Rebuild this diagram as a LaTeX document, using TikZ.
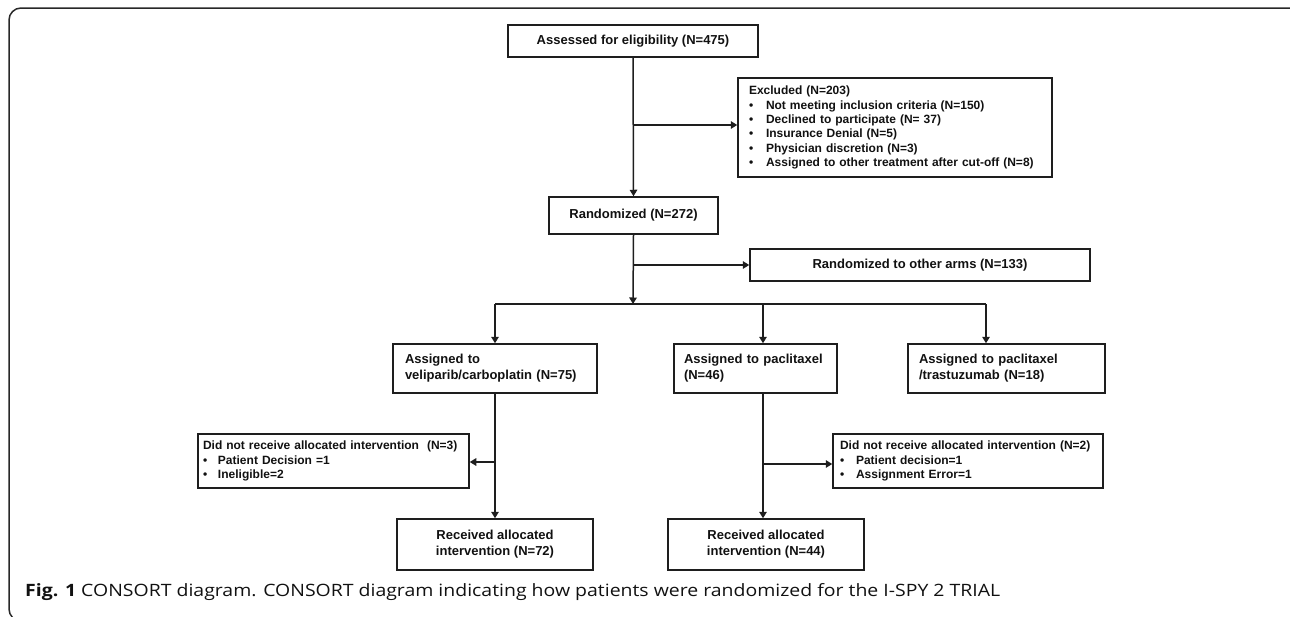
\documentclass[tikz,border=0pt]{standalone}
\usepackage{graphicx}
\usepackage{fontspec}
\setmainfont{Liberation Sans}
\newfontfamily\capfont{Open Sans}
\usetikzlibrary{arrows.meta}
\definecolor{linec}{RGB}{30,30,30}
\definecolor{textc}{RGB}{17,17,17}
\definecolor{framec}{RGB}{40,40,40}
\tikzset{
  box/.style={draw=linec, line width=1.5pt, inner sep=0pt, text=textc,
    font=\fontsize{13}{16}\selectfont\bfseries},
  smallbox/.style={draw=linec, line width=1.5pt, inner ysep=0pt, text=textc,
    font=\fontsize{12}{14.3}\selectfont\bfseries, align=left},
  arr/.style={draw=linec, line width=1.5pt, -{Triangle[length=6.5pt,width=7.5pt]}},
  ln/.style={draw=linec, line width=1.5pt},
}
\begin{document}
\begin{tikzpicture}[x=1pt,y=-1pt]
\useasboundingbox (0,0) rectangle (1290,616);
% frame
\draw[framec, line width=1.5pt, rounded corners=12pt] (1297,8) -- (9,8) -- (9,621) -- (40,621);

\node[box, minimum width=250pt, minimum height=32pt] (n1) at (633,41) {Assessed for eligibility (N=475)};

\node[smallbox, inner xsep=11pt, text width=292pt, minimum height=99pt] (excl) at (895,127.5)
 {Excluded (N=203)\\
  \makebox[17pt][l]{\textbullet}Not meeting inclusion criteria (N=150)\\
  \makebox[17pt][l]{\textbullet}Declined to participate (N= 37)\\
  \makebox[17pt][l]{\textbullet}Insurance Denial (N=5)\\
  \makebox[17pt][l]{\textbullet}Physician discretion (N=3)\\
  \makebox[17pt][l]{\textbullet}Assigned to other treatment after cut-off (N=8)};

\node[box, minimum width=169pt, minimum height=37pt] (rand) at (633.5,215.5) {Randomized (N=272)};

\node[box, minimum width=340pt, minimum height=32pt] (other) at (920,265) {Randomized to other arms (N=133)};

\node[box, align=left, inner xsep=12pt, text width=180pt, minimum height=49pt] (veli) at (495,368.5)
 {Assigned to\\veliparib/carboplatin (N=75)};
\node[box, align=left, inner xsep=10pt, text width=143pt, minimum height=49pt] (pacl) at (755.5,368.5)
 {Assigned to paclitaxel\\(N=46)};
\node[box, align=left, inner xsep=11pt, text width=175pt, minimum height=49pt] (tras) at (1006.5,368.5)
 {Assigned to paclitaxel\\/trastuzumab (N=18)};

\node[smallbox, inner xsep=5pt, text width=261pt, minimum height=54pt] (dnr1) at (333.5,461)
 {Did not receive allocated intervention\ \ (N=3)\\
  \makebox[15pt][l]{\textbullet}Patient Decision =1\\
  \makebox[15pt][l]{\textbullet}Ineligible=2};
\node[smallbox, inner xsep=7pt, text width=256pt, minimum height=54pt] (dnr2) at (968,461)
 {Did not receive allocated intervention (N=2)\\
  \makebox[16pt][l]{\textbullet}Patient decision=1\\
  \makebox[16pt][l]{\textbullet}Assignment Error=1};

\node[box, align=center, minimum width=196pt, minimum height=51pt] (rec1) at (495,544.5)
 {Received allocated\\intervention (N=72)};
\node[box, align=center, minimum width=196pt, minimum height=51pt] (rec2) at (766,544.5)
 {Received allocated\\intervention (N=44)};

% connectors
\coordinate (b1) at (633,125);
\coordinate (b2) at (633,265);
\coordinate (split) at (633,304);
\coordinate (sl) at (495,304);
\coordinate (sm) at (763,304);
\coordinate (sr) at (986,304);
\coordinate (b3) at (495,462);
\coordinate (b4) at (763,464);

\draw[arr] (n1.south) -- (rand.north);
\draw[arr] (b1) -- (b1 -| excl.west);
\draw[arr] (rand.south) -- (split);
\draw[arr] (b2) -- (other.west);
\draw[ln] (sl) -- (sr);
\draw[arr] (sl) -- (veli.north);
\draw[arr] (sm) -- (sm |- pacl.north);
\draw[arr] (sr) -- (sr |- tras.north);
\draw[arr] (veli.south) -- (rec1.north);
\draw[arr] (b3) -- (b3 -| dnr1.east);
\draw[arr] (sm |- pacl.south) -- (sm |- rec2.north);
\draw[arr] (b4) -- (b4 -| dnr2.west);

% caption
\node[anchor=west, inner sep=0pt, text=textc] (cap) at (25,592)
 {\resizebox{975pt}{\height}{\capfont\fontsize{17}{20}\selectfont\textbf{Fig. 1} CONSORT diagram. CONSORT diagram indicating how patients were randomized for the I-SPY 2 TRIAL}};
\end{tikzpicture}
\end{document}
